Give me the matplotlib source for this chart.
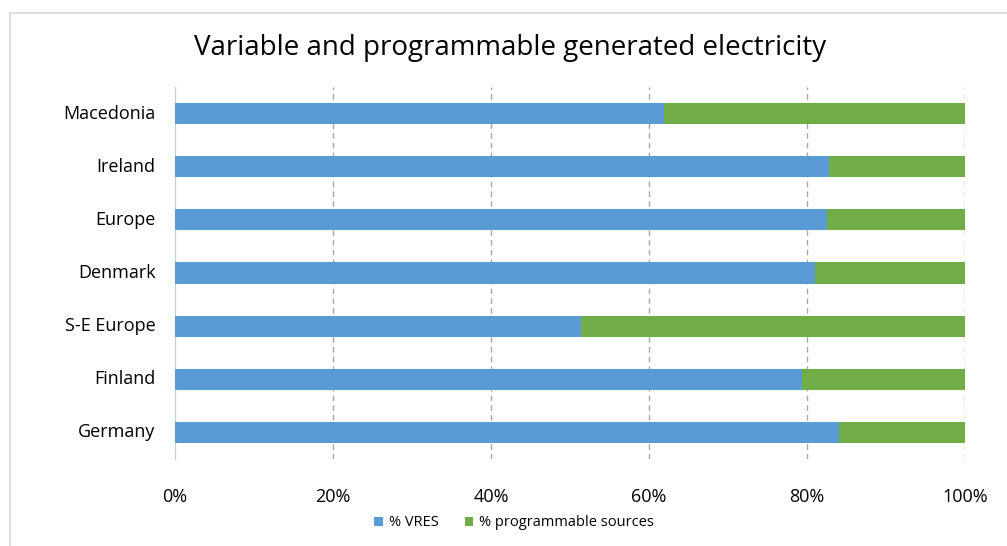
import matplotlib
matplotlib.use("Agg")
import matplotlib.pyplot as plt
from matplotlib.patches import Rectangle
import numpy as np

categories = ["Macedonia", "Ireland", "Europe", "Denmark", "S-E Europe", "Finland", "Germany"]
vres = [61.9, 82.8, 82.5, 81.0, 51.4, 79.4, 84.1]
programmable = [100 - v for v in vres]
tick_vals = [0, 20, 40, 60, 80, 100]
tick_labels = ["0%", "20%", "40%", "60%", "80%", "100%"]
series_names = ["% VRES", "% programmable sources"]
title = "Variable and programmable generated electricity"

plt.rcParams['font.family'] = ['Open Sans', 'DejaVu Sans']

W, H = 1007, 546
fig = plt.figure(figsize=(W / 100, H / 100), dpi=100)
ax = fig.add_axes([175 / W, 1 - 459 / H, (965 - 175) / W, (459 - 87) / H])

blue = "#5B9BD5"
green = "#70AD47"
y = np.arange(len(categories))
ax.barh(y, vres, height=0.4, color=blue, label=series_names[0], zorder=3)
ax.barh(y, programmable, left=vres, height=0.4, color=green, label=series_names[1], zorder=3)

ax.set_xlim(0, 100)
ax.set_ylim(len(categories) - 0.5, -0.5)
ax.set_yticks(y)
ax.set_yticklabels(categories, fontsize=13, color="#000000", va="center")
ax.set_xticks(tick_vals)
ax.set_xticklabels(tick_labels, fontsize=13, color="#000000")
ax.tick_params(axis='y', length=0, pad=14)
ax.tick_params(axis='x', length=0, pad=21)
for lbl in ax.get_yticklabels():
    lbl.set_y(lbl.get_position()[1])

for s in ["top", "right", "bottom"]:
    ax.spines[s].set_visible(False)
ax.spines["left"].set_color("#d0d0d0")
ax.spines["left"].set_linewidth(1.0)

for v in tick_vals[1:]:
    ax.axvline(v, color="#a6a6a6", linewidth=1.0, linestyle=(0, (4, 3)), zorder=1)

fig.text(510 / W, 1 - 48 / H, title, fontsize=20, ha="center", va="center", color="#000000")

handles, labels = ax.get_legend_handles_labels()
leg = fig.legend(handles, labels, loc="center", bbox_to_anchor=(514 / W, 1 - 523 / H),
                 ncol=2, frameon=False, fontsize=10.5, handlelength=0.6, handleheight=0.6,
                 handletextpad=0.4, columnspacing=1.8)

fig.patches.append(Rectangle((10 / W, -0.1), 1.2, 1 - 13 / H + 0.1, transform=fig.transFigure,
                             fill=False, edgecolor="#d9d9d9", linewidth=1.2))

fig.savefig("out.png", dpi=100)
